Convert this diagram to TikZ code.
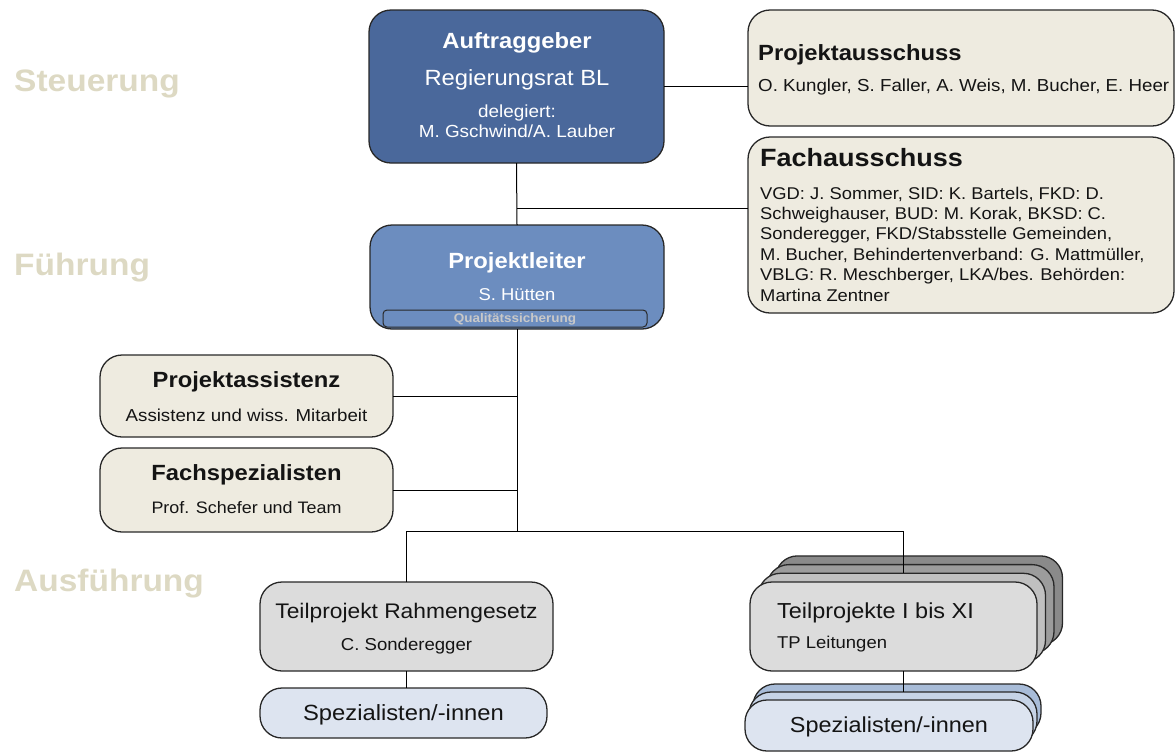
\documentclass[tikz,border=0pt]{standalone}
\usepackage{fontspec}
\setmainfont{Liberation Sans}[FakeStretch=1.08]
\newcommand\fsz[1]{\fontsize{#1pt}{#1pt}\selectfont}
\definecolor{agblue}{RGB}{74,104,155}
\definecolor{plblue}{RGB}{108,141,191}
\definecolor{beige}{RGB}{238,235,224}
\definecolor{lgray}{RGB}{220,220,220}
\definecolor{gA}{RGB}{138,138,138}
\definecolor{gB}{RGB}{156,156,156}
\definecolor{gC}{RGB}{192,192,192}
\definecolor{lblue}{RGB}{221,228,240}
\definecolor{bA}{RGB}{168,188,216}
\definecolor{bB}{RGB}{198,211,230}
\definecolor{bordercol}{RGB}{40,40,40}
\definecolor{lvl}{RGB}{221,217,195}
\definecolor{qscol}{RGB}{200,200,200}
\definecolor{txtcol}{RGB}{20,20,20}
\tikzset{
  box/.style={draw=bordercol, line width=1.3pt, rounded corners=22pt, inner sep=0pt, outer sep=0pt},
  txt/.style={inner sep=0pt, anchor=base, text=txtcol},
  ltxt/.style={inner sep=0pt, anchor=base west, text=txtcol},
  wtxt/.style={inner sep=0pt, anchor=base, text=white},
  lvltxt/.style={inner sep=0pt, anchor=base west, text=lvl, font=\fsz{31}\bfseries},
  conn/.style={draw=black, line width=1pt},
}
\begin{document}
\begin{tikzpicture}[x=1pt,y=-1pt]
\useasboundingbox (0,0) rectangle (1175,753);
% level labels
\node[lvltxt] (lS) at (14,91) {Steuerung};
\node[lvltxt] (lF) at (14,275) {Führung};
\node[lvltxt] (lA) at (14,591) {Ausführung};
% boxes
\node[box, fill=agblue, minimum width=295pt, minimum height=153pt] (AG) at (516.5,86.5) {};
\node[box, fill=beige, minimum width=426pt, minimum height=116pt] (PA) at (961,68) {};
\node[box, fill=beige, minimum width=426pt, minimum height=176pt] (FA) at (961,225) {};
\node[box, fill=plblue, minimum width=294pt, minimum height=104pt] (PL) at (517,277) {};
\node[box, fill=plblue, line width=1pt, rounded corners=4pt, minimum width=264pt, minimum height=17pt] (QS) at (515,318.5) {};
\node[box, fill=beige, minimum width=293pt, minimum height=82pt] (PAs) at (246.5,396) {};
\node[box, fill=beige, minimum width=293pt, minimum height=84pt] (FS) at (246.5,490) {};
\node[box, fill=lgray, minimum width=293pt, minimum height=89pt] (TR) at (406.5,626.5) {};
\node[box, fill=lblue, minimum width=287pt, minimum height=50pt] (SL) at (403.5,713) {};
% stacked Teilprojekte
\node[box, fill=gA, minimum width=287pt, minimum height=89pt] (TL1) at (919,600.4) {};
\node[box, fill=gB, minimum width=287pt, minimum height=89pt] (TL2) at (910.5,609.1) {};
\node[box, fill=gC, minimum width=287pt, minimum height=89pt] (TL3) at (902,617.8) {};
\node[box, fill=lgray, minimum width=287pt, minimum height=89pt] (TL) at (893.5,626.5) {};
% stacked Spezialisten
\node[box, fill=bA, minimum width=288pt, minimum height=51pt] (SR1) at (897,709.5) {};
\node[box, fill=bB, minimum width=288pt, minimum height=51pt] (SR2) at (893,717.5) {};
\node[box, fill=lblue, minimum width=288pt, minimum height=51pt] (SR) at (889,725.5) {};
% connectors
\coordinate (j1) at (517,208);
\coordinate (j2) at (517,531);
\coordinate (jL) at (406.5,531);
\coordinate (jR) at (903,531);
\draw[conn] (AG.east) -- (AG.east -| PA.west);
\draw[conn] (AG.south) -- (PL.north);
\draw[conn] (j1) -- (j1 -| FA.west);
\draw[conn] (PL.south) -- (j2);
\draw[conn] (PAs.east) -- (PAs.east -| j2);
\draw[conn] (FS.east) -- (FS.east -| j2);
\draw[conn] (TR.north) |- (jR) -- (jR |- TL3.north);
\draw[conn] (TR.south) -- (TR.south |- SL.north);
\draw[conn] (jR |- TL.south) -- (jR |- SR2.north);
% texts
\node[wtxt, font=\fsz{22}\bfseries] (tAG1) at (517,48) {Auftraggeber};
\node[wtxt, font=\fsz{22}] (tAG2) at (517,85) {Regierungsrat BL};
\node[wtxt, font=\fsz{17.5}] (tAG3) at (517,117) {delegiert:};
\node[wtxt, font=\fsz{17.5}] (tAG4) at (517,137) {M. Gschwind/A. Lauber};
\node[ltxt, font=\fsz{22}\bfseries] (tPA1) at (758,60) {Projektausschuss};
\node[ltxt, font=\fsz{17.35}] (tPA2) at (758,91) {O. Kungler, S. Faller, A. Weis, M. Bucher, E. Heer};
\node[ltxt, font=\fsz{25}\bfseries] (tFA0) at (760,166) {Fachausschuss};
\node[ltxt, font=\fsz{17}] (tFA1) at (760,199) {VGD: J. Sommer, SID: K. Bartels, FKD: D.};
\node[ltxt, font=\fsz{17}] (tFA2) at (760,219.4) {Schweighauser, BUD: M. Korak, BKSD: C.};
\node[ltxt, font=\fsz{17}] (tFA3) at (760,239.8) {Sonderegger, FKD/Stabsstelle Gemeinden,};
\node[ltxt, font=\fsz{17}] (tFA4) at (760,260.2) {M. Bucher, Behindertenverband: G. Mattmüller,};
\node[ltxt, font=\fsz{17}] (tFA5) at (760,280.6) {VBLG: R. Meschberger, LKA/bes. Behörden:};
\node[ltxt, font=\fsz{17}] (tFA6) at (760,301) {Martina Zentner};
\node[wtxt, font=\fsz{22}\bfseries] (tPL1) at (517,268) {Projektleiter};
\node[wtxt, font=\fsz{17.1}] (tPL2) at (517,300) {S. Hütten};
\node[txt, text=qscol, font=\fsz{12.5}\bfseries] (tQS) at (515,322) {Qualitätssicherung};
\node[txt, font=\fsz{22}\bfseries] (tPAs1) at (246.5,387) {Projektassistenz};
\node[txt, font=\fsz{17.3}] (tPAs2) at (246.5,421) {Assistenz und wiss. Mitarbeit};
\node[txt, font=\fsz{22}\bfseries] (tFS1) at (246.5,480) {Fachspezialisten};
\node[txt, font=\fsz{16.6}] (tFS2) at (246.5,513) {Prof. Schefer und Team};
\node[txt, font=\fsz{21.1}] (tTR1) at (406.5,618) {Teilprojekt Rahmengesetz};
\node[txt, font=\fsz{17.2}] (tTR2) at (406.5,650) {C. Sonderegger};
\node[txt, font=\fsz{22}] (tSL) at (403.5,720) {Spezialisten/-innen};
\node[ltxt, font=\fsz{21.7}] (tTL1) at (777,618) {Teilprojekte I bis XI};
\node[ltxt, font=\fsz{17.1}] (tTL2) at (777,648) {TP Leitungen};
\node[txt, font=\fsz{21.7}] (tSR) at (889,732) {Spezialisten/-innen};
\end{tikzpicture}
\end{document}
